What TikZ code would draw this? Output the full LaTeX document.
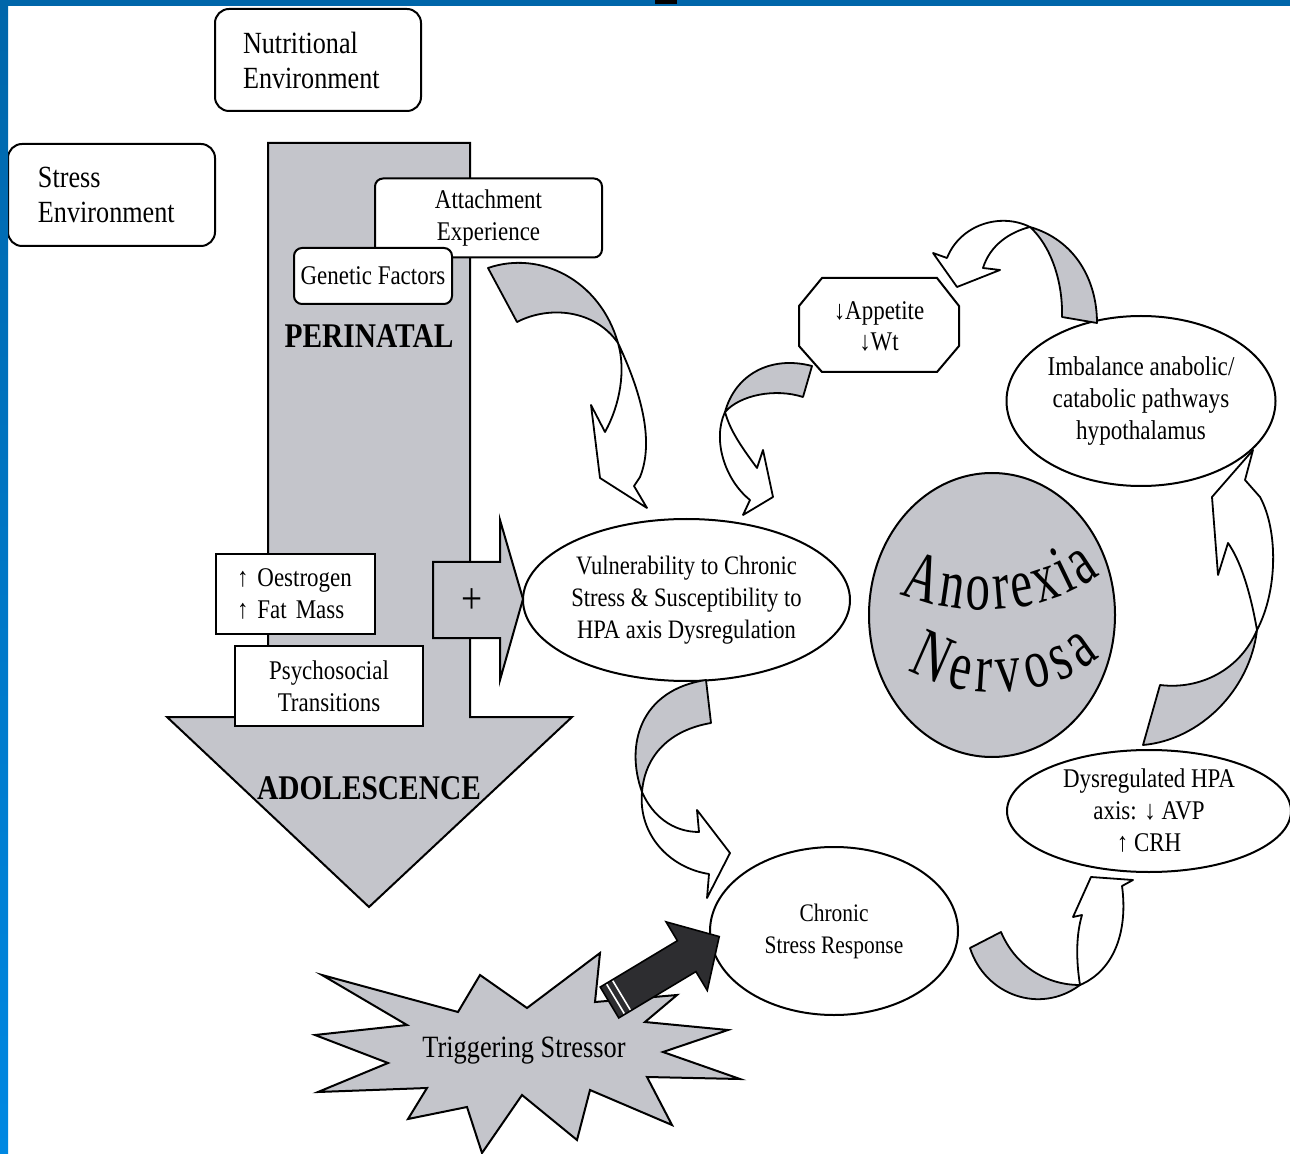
\documentclass[tikz,border=0pt]{standalone}
\usepackage{fontspec}
\setmainfont{Liberation Serif}[FakeStretch=0.85]
\newfontfamily\anfont{Liberation Serif}[FakeStretch=0.7]
\usetikzlibrary{shapes.geometric, decorations.text}
\definecolor{slideblue}{RGB}{0,102,170}
\definecolor{slidebluelt}{RGB}{0,136,226}
\definecolor{ribgray}{RGB}{196,197,203}
\definecolor{darkarrow}{RGB}{45,45,48}
\tikzset{
    envbox/.style={rectangle, rounded corners=7pt, draw=black, line width=1pt, fill=white, align=left, font=\fontsize{15.4}{17.5}\selectfont, minimum height=51pt},
    factorbox/.style={rectangle, rounded corners=4pt, draw=black, line width=1pt, fill=white, align=center, font=\fontsize{13.5}{16}\selectfont, inner sep=0pt},
    plainbox/.style={rectangle, draw=black, line width=1pt, fill=white, font=\fontsize{13.5}{16}\selectfont, minimum height=40pt},
    stateell/.style={ellipse, draw=black, line width=1pt, fill=white, inner sep=0pt, align=center, font=\fontsize{13.3}{16}\selectfont},
    stagelbl/.style={font=\bfseries\fontsize{17.3}{20}\selectfont},
    bigarrow/.style={fill=ribgray, draw=black, line width=1pt, line join=miter},
    ribback/.style={fill=ribgray, draw=black, line width=0.9pt, line join=round},
    ribfront/.style={fill=white, draw=black, line width=0.9pt, line join=round},
    curvetext/.style={decorate, decoration={text along path, text align=fit to path, text={|\anfont\fontsize{35}{37}\selectfont|#1}}}
}

\begin{document}
\begin{tikzpicture}[x=0.5pt, y=-0.5pt]
    \clip (0,0) rectangle (1290,1154);

    % Developmental arrow
    \draw[bigarrow] (268,143) -- (470,143) -- (470,717) -- (572,717) -- (369,907) -- (167,717) -- (268,717) -- cycle;

    % Environment boxes
    \node[envbox, minimum width=103pt, text width=75pt, inner xsep=14pt] (nutri) at (318,60) {Nutritional\\Environment};
    \node[envbox, minimum width=103.5pt, text width=73.5pt, inner xsep=15pt] (stressenv) at (111.5,195) {Stress\\Environment};

    % Perinatal factors
    \node[factorbox, minimum width=113.5pt, minimum height=39.5pt] (attach) at (488.5,218) {Attachment\\Experience};
    \node[factorbox, minimum width=79pt, minimum height=28pt] (genetic) at (373,276) {Genetic Factors};
    \node[stagelbl] (peri) at (369,336) {PERINATAL};

    % Adolescent factors
    \node[plainbox, align=left, text width=58.5pt, inner xsep=10.5pt] (oestro) at (295.5,594) {↑ Oestrogen\\↑ Fat Mass};
    \node[plainbox, align=center, minimum width=94pt] (psycho) at (329,686) {Psychosocial\\Transitions};
    \node[stagelbl] (adol) at (369,788) {ADOLESCENCE};

    % Plus arrow
    \draw[bigarrow] (433,562) -- (500,562) -- (500,520) -- (523,599) -- (500,680) -- (500,638) -- (433,638) -- cycle;
    \node[font=\fontsize{22}{22}\selectfont] (plus) at (472,601) {+};

    % Cycle states
    \node[stateell, minimum width=163.5pt, minimum height=81pt] (vuln) at (686.5,600) {Vulnerability to Chronic\\Stress \& Susceptibility to\\HPA axis Dysregulation};
    \draw[line width=1pt, fill=white] (822,278) -- (937,278) -- (959,306) -- (959,346) -- (937,372) -- (822,372) -- (799,346) -- (799,306) -- cycle;
    \node[align=center, inner sep=0pt, font=\fontsize{13.5}{15.5}\selectfont] (appetite) at (879,326) {↓Appetite\\↓Wt};
    \node[stateell, minimum width=134.5pt, minimum height=85pt, font=\fontsize{13.6}{16}\selectfont] (imbal) at (1141,401) {Imbalance anabolic/\\catabolic pathways\\hypothalamus};
    \node[stateell, minimum width=142pt, minimum height=61pt, font=\fontsize{13.5}{16}\selectfont] (dysreg) at (1149,811) {Dysregulated HPA\\axis: ↓ AVP\\↑ CRH};
    \node[stateell, minimum width=124pt, minimum height=84pt, font=\fontsize{12.6}{16}\selectfont] (chronic) at (834,931) {Chronic\\Stress Response};

    % Centre disc
    \node[ellipse, draw=black, line width=1pt, fill=ribgray, minimum width=123pt, minimum height=142pt] (an) at (992,615) {};
    \path[curvetext=Anorexia] (900,594) .. controls (958,618) and (1042,618) .. (1100,574);
    \path[curvetext=Nervosa] (908,670) .. controls (962,702) and (1046,702) .. (1100,657);

    % Twisted arrows round the cycle
    \draw[ribback] (488,268) .. controls (540,250) and (600,280) .. (618,343) .. controls (595,310) and (550,305) .. (517,322) -- cycle;
    \draw[ribfront] (618,343) .. controls (640,390) and (655,440) .. (640,477) -- (634,486) -- (647,508) -- (600,478) -- (591,405) -- (605,432) .. controls (620,405) and (626,370) .. (618,343) -- cycle;

    \draw[ribback] (812,366) .. controls (770,355) and (735,375) .. (725,412) .. controls (740,395) and (775,388) .. (803,397) -- cycle;
    \draw[ribfront] (725,412) .. controls (712,440) and (725,480) .. (750,500) -- (743,515) -- (773,497) -- (763,450) -- (757,468) .. controls (740,445) and (730,430) .. (725,412) -- cycle;

    \draw[ribback] (706,680) -- (711,723) .. controls (670,730) and (645,755) .. (642,792) .. controls (625,745) and (640,690) .. (706,680) -- cycle;
    \draw[ribfront] (642,792) .. controls (652,815) and (672,832) .. (699,832) -- (697,810) -- (730,853) -- (707,898) -- (709,874) .. controls (670,868) and (638,835) .. (642,792) -- cycle;

    \draw[ribback] (970,948) -- (1001,932) .. controls (1015,965) and (1045,985) .. (1080,985) .. controls (1040,1015) and (985,995) .. (970,948) -- cycle;
    \draw[ribfront] (1080,985) .. controls (1076,960) and (1076,935) .. (1082,915) -- (1073,917) -- (1091,877) -- (1133,880) -- (1122,886) .. controls (1128,930) and (1115,970) .. (1080,985) -- cycle;

    \draw[ribback] (1143,745) -- (1160,685) .. controls (1200,690) and (1240,670) .. (1257,630) .. controls (1250,690) and (1200,740) .. (1143,745) -- cycle;
    \draw[ribfront] (1257,630) .. controls (1250,590) and (1240,560) .. (1228,543) -- (1218,575) -- (1212,497) -- (1253,450) -- (1245,480) -- (1260,497) .. controls (1278,530) and (1278,590) .. (1257,630) -- cycle;

    \draw[ribback] (1062,317) -- (1097,323) .. controls (1097,280) and (1075,240) .. (1030,227) .. controls (1050,245) and (1063,280) .. (1062,317) -- cycle;
    \draw[ribfront] (1030,227) .. controls (1000,212) and (960,225) .. (947,258) -- (933,253) -- (957,287) -- (1000,270) -- (983,268) .. controls (990,245) and (1010,232) .. (1030,227) -- cycle;

    % Triggering stressor burst
    \draw[bigarrow] (322,975) -- (458,1012) -- (480,975) -- (527,1008) -- (600,953) -- (595,1002) -- (677,995) -- (645,1022) -- (728,1030) -- (663,1052) -- (740,1079) -- (647,1077) -- (672,1125) -- (590,1090) -- (577,1140) -- (522,1095) -- (482,1153) -- (467,1107) -- (408,1119) -- (427,1088) -- (318,1092) -- (388,1063) -- (315,1035) -- (407,1025) -- cycle;
    \node[font=\fontsize{15.5}{17}\selectfont] (trigger) at (524,1051) {Triggering Stressor};

    % Striped dark arrow into the stress response
    \begin{scope}[shift={(609.5,1002.5)}, rotate=31]
        \filldraw[fill=darkarrow, draw=black, line width=0.8pt] (0,-18) -- (90,-18) -- (90,-40) -- (128,0) -- (90,40) -- (90,18) -- (0,18) -- cycle;
        \draw[white, line width=0.8pt] (7,-17) -- (7,17) (14,-17) -- (14,17);
    \end{scope}

    % Slide frame
    \fill[slideblue] (0,0) rectangle (1290,6);
    \fill[black] (655,0) rectangle (677,4);
    \shade[top color=slideblue, bottom color=slidebluelt] (0,0) rectangle (8,1154);
\end{tikzpicture}
\end{document}
